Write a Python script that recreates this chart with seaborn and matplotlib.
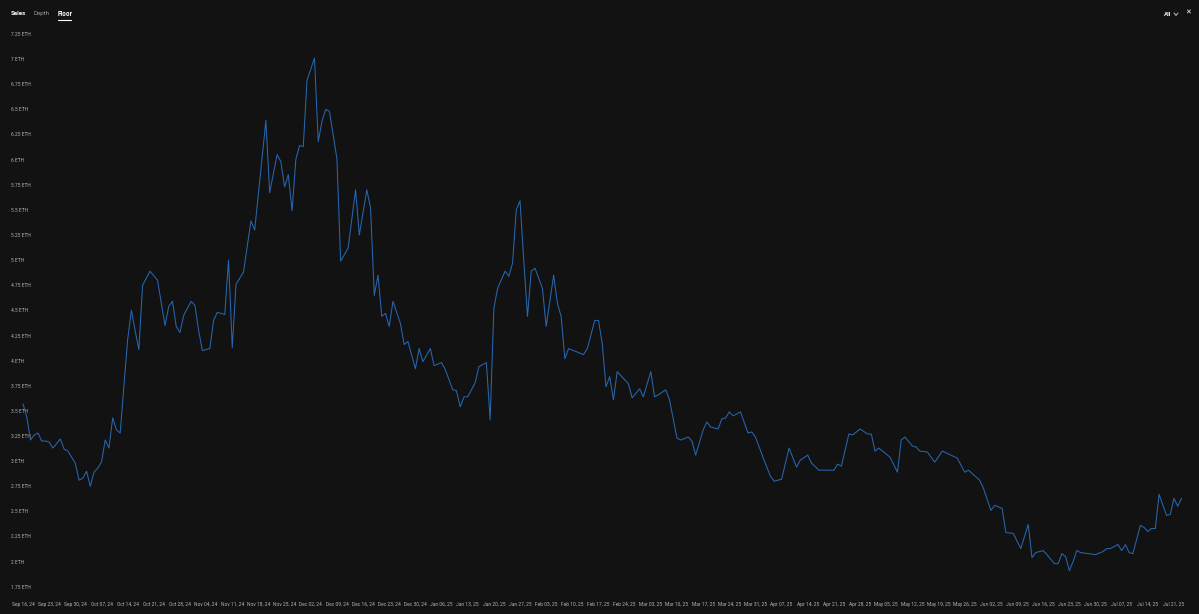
import pandas as pd
import matplotlib
matplotlib.use("Agg")
import matplotlib.pyplot as plt
from matplotlib.lines import Line2D
import seaborn as sns

# --------------------------------------------------
# Data (floor price, ETH) - days counted from Sep 16, 2024
# --------------------------------------------------
START = pd.Timestamp("2024-09-16")

days = [
    0, 1, 2, 3, 4, 5, 6, 7, 8, 10, 11, 12, 14, 15, 16, 17, 18, 19, 20, 21,
    22, 23, 24, 25, 26, 27, 28, 29, 30, 31, 32, 34, 36, 38, 39, 40, 41, 42, 43, 45,
    46, 47, 48, 50, 51, 52, 54, 55, 56, 57, 59, 61, 62, 65, 66, 68, 69, 70, 71, 72,
    73, 74, 75, 76, 78, 79, 80, 81, 82, 84, 85, 87, 89, 90, 92, 93, 94, 95, 96, 97,
    98, 99, 101, 102, 103, 105, 106, 107, 109, 110, 112, 113, 115, 116, 117, 118, 119, 121, 122, 124,
    125, 126, 127, 129, 130, 131, 132, 133, 134, 135, 136, 137, 139, 140, 142, 143, 144, 145, 146, 148,
    150, 151, 153, 154, 155, 156, 157, 158, 159, 160, 162, 163, 165, 166, 168, 169, 170, 172, 173, 175,
    176, 178, 179, 180, 182, 183, 184, 186, 187, 188, 189, 190, 192, 194, 195, 196, 198, 200, 201, 203,
    205, 207, 208, 210, 211, 213, 215, 217, 218, 219, 221, 222, 224, 226, 227, 228, 229, 232, 234, 235,
    236, 238, 239, 240, 242, 244, 246, 250, 252, 253, 256, 257, 259, 260, 262, 263, 265, 267, 268, 269,
    270, 271, 273, 274, 276, 277, 278, 279, 280, 281, 282, 283, 285, 287, 289, 290, 291, 293, 294, 295,
    296, 297, 299, 300, 301, 302, 303, 304, 306, 307, 308, 309, 310,
]

floor = [
    3.57, 3.44, 3.21, 3.26, 3.28, 3.20, 3.20, 3.19, 3.13, 3.22, 3.12, 3.10, 2.98, 2.81, 2.83, 2.90, 2.75, 2.89, 2.93, 2.99,
    3.21, 3.13, 3.43, 3.31, 3.28, 3.74, 4.21, 4.50, 4.30, 4.11, 4.75, 4.89, 4.80, 4.35, 4.54, 4.59, 4.34, 4.28, 4.45, 4.59,
    4.55, 4.30, 4.10, 4.12, 4.40, 4.48, 4.46, 5.00, 4.13, 4.76, 4.88, 5.39, 5.30, 6.39, 5.67, 6.05, 5.98, 5.73, 5.85, 5.49,
    6.00, 6.14, 6.13, 6.79, 7.01, 6.18, 6.38, 6.50, 6.48, 6.01, 4.99, 5.12, 5.70, 5.25, 5.70, 5.52, 4.65, 4.85, 4.44, 4.47,
    4.34, 4.59, 4.37, 4.16, 4.19, 3.92, 4.12, 3.99, 4.12, 3.95, 3.98, 3.91, 3.71, 3.70, 3.54, 3.64, 3.64, 3.78, 3.94, 3.98,
    3.41, 4.52, 4.72, 4.89, 4.84, 4.97, 5.50, 5.59, 5.00, 4.44, 4.89, 4.92, 4.72, 4.34, 4.85, 4.57, 4.44, 4.02, 4.12, 4.09,
    4.06, 4.12, 4.40, 4.40, 4.17, 3.74, 3.84, 3.61, 3.89, 3.85, 3.77, 3.63, 3.72, 3.64, 3.89, 3.64, 3.66, 3.71, 3.61, 3.23,
    3.21, 3.24, 3.20, 3.06, 3.31, 3.39, 3.34, 3.32, 3.42, 3.43, 3.49, 3.45, 3.49, 3.28, 3.29, 3.24, 3.04, 2.85, 2.80, 2.82,
    3.13, 2.94, 3.01, 3.06, 2.98, 2.91, 2.91, 2.91, 2.97, 2.95, 3.27, 3.26, 3.32, 3.27, 3.27, 3.10, 3.13, 3.04, 2.89, 3.21,
    3.24, 3.15, 3.14, 3.10, 3.09, 2.99, 3.10, 3.03, 2.89, 2.91, 2.81, 2.73, 2.51, 2.56, 2.53, 2.29, 2.28, 2.13, 2.25, 2.37,
    2.04, 2.09, 2.11, 2.07, 1.98, 1.98, 2.08, 2.05, 1.91, 2.00, 2.11, 2.09, 2.08, 2.07, 2.10, 2.13, 2.13, 2.17, 2.11, 2.17,
    2.09, 2.08, 2.36, 2.34, 2.30, 2.33, 2.33, 2.67, 2.46, 2.47, 2.63, 2.55, 2.63,
]

y_ticks = [1.75, 2.0, 2.25, 2.5, 2.75, 3.0, 3.25, 3.5, 3.75, 4.0, 4.25, 4.5,
           4.75, 5.0, 5.25, 5.5, 5.75, 6.0, 6.25, 6.5, 6.75, 7.0, 7.25]
x_ticks = pd.date_range("2024-09-16", "2025-07-21", freq="7D")

tabs = ["Sales", "Depth", "Floor"]

df = pd.DataFrame({
    "date": START + pd.to_timedelta(days, unit="D"),
    "floor": floor,
})

# --------------------------------------------------
# Style
# --------------------------------------------------
BG = "#121212"
LINE = "#2766b0"
TXT = "#b4b4b4"

sns.set_style("dark")
plt.rcParams["font.family"] = ["Roboto", "DejaVu Sans"]

W, H = 1199, 614
fig = plt.figure(figsize=(W / 100, H / 100), dpi=100, facecolor=BG)
ax = fig.add_axes([0, 1 - 597 / H, 1, 597 / H])
ax.set_facecolor(BG)

sns.lineplot(data=df, x="date", y="floor", ax=ax, color=LINE, linewidth=0.75)

# pixel mapping: Sep 16 -> x=23, 3.737 px/day ; 7.25 ETH -> y=34, 100.5 px/ETH
px_day = 3.737
ax.set_xlim(START - pd.Timedelta(days=23 / px_day),
            START + pd.Timedelta(days=(W - 23) / px_day))
ax.set_ylim(7.25 - (597 - 34) / 100.5, 7.25 + 34 / 100.5)

ax.set_yticks(y_ticks)
ax.set_yticklabels([f"{v:g} ETH" for v in y_ticks])
ax.set_xticks(x_ticks)
ax.set_xticklabels([d.strftime("%b %d, %y") for d in x_ticks])

ax.tick_params(axis="y", length=0, pad=-8, labelsize=3.5, labelcolor=TXT)
for lbl in ax.get_yticklabels():
    lbl.set_horizontalalignment("left")
ax.tick_params(axis="x", length=0, pad=3.5, labelsize=3.5, labelcolor=TXT)

ax.grid(False)
ax.set_xlabel("")
ax.set_ylabel("")
for s in ax.spines.values():
    s.set_visible(False)

# --------------------------------------------------
# Header
# --------------------------------------------------
def fx(px):
    return px / W


def fy(py):
    return 1 - py / H


fig.text(fx(11), fy(13.5), tabs[0], color="white", fontsize=4.4,
         fontweight="bold", va="center", ha="left")
fig.text(fx(33), fy(13.5), tabs[1], color="#9a9a9a", fontsize=4.4,
         va="center", ha="left")
fig.text(fx(58), fy(13.5), tabs[2], color="white", fontsize=4.4,
         fontweight="bold", va="center", ha="left", family="Inter")
fig.add_artist(Line2D([fx(58), fx(71)], [fy(20), fy(20)],
                      color="white", linewidth=0.8))

fig.text(fx(1164), fy(14), "All", color="white", fontsize=4.4,
         fontweight="bold", va="center", ha="left")
# small chevron next to "All"
fig.add_artist(Line2D([fx(1174), fx(1176), fx(1178)], [fy(13), fy(15.5), fy(13)],
                      color="#bbbbbb", linewidth=0.7))
fig.text(fx(1188), fy(13), "✕", color="white", fontsize=5,
         va="center", ha="center", family="DejaVu Sans")

fig.savefig("out.png", dpi=100, facecolor=BG)
